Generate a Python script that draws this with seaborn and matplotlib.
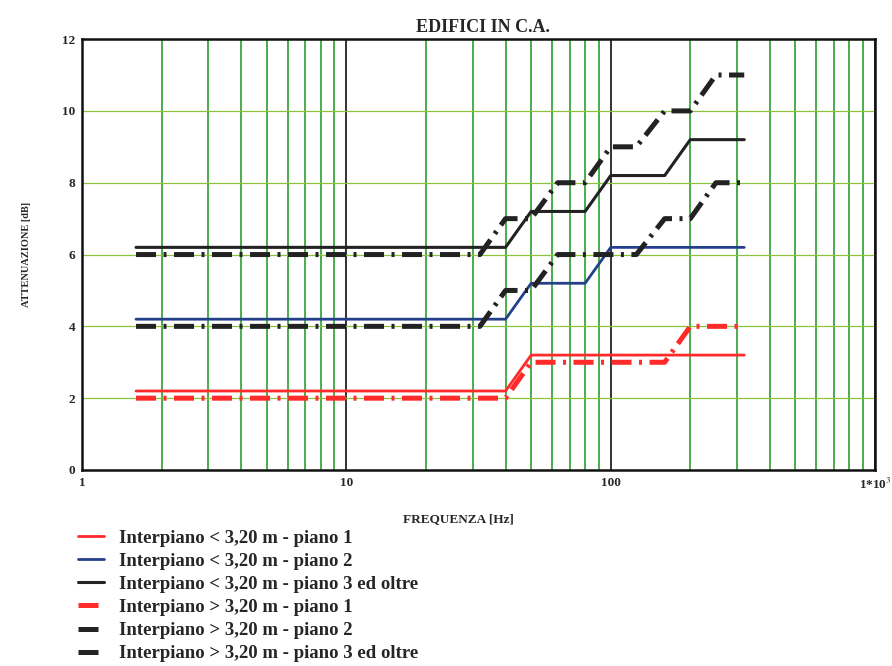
import matplotlib
matplotlib.use('Agg')
import matplotlib.pyplot as plt
import seaborn as sns
from matplotlib.ticker import LogLocator, FixedLocator, NullFormatter

# Data (frequency in Hz, attenuation in dB)
freq_lt_p1 = [1.6, 40, 50, 320]
att_lt_p1 = [2.2, 2.2, 3.2, 3.2]

freq_lt_p2 = [1.6, 40, 50, 80, 100, 320]
att_lt_p2 = [4.2, 4.2, 5.2, 5.2, 6.2, 6.2]

freq_lt_p3 = [1.6, 40, 50, 80, 100, 160, 200, 320]
att_lt_p3 = [6.2, 6.2, 7.2, 7.2, 8.2, 8.2, 9.2, 9.2]

freq_gt_p1 = [1.6, 40, 50, 160, 200, 320]
att_gt_p1 = [2.0, 2.0, 3.0, 3.0, 4.0, 4.0]

freq_gt_p2 = [1.6, 32, 40, 50, 63, 125, 160, 200, 250, 320]
att_gt_p2 = [4.0, 4.0, 5.0, 5.0, 6.0, 6.0, 7.0, 7.0, 8.0, 8.0]

freq_gt_p3 = [1.6, 32, 40, 50, 63, 80, 100, 125, 160, 200, 250, 320]
att_gt_p3 = [6.0, 6.0, 7.0, 7.0, 8.0, 8.0, 9.0, 9.0, 10.0, 10.0, 11.0, 11.0]

labels = [
    'Interpiano < 3,20 m - piano 1',
    'Interpiano < 3,20 m - piano 2',
    'Interpiano < 3,20 m - piano 3 ed oltre',
    'Interpiano > 3,20 m - piano 1',
    'Interpiano > 3,20 m - piano 2',
    'Interpiano > 3,20 m - piano 3 ed oltre',
]

sns.set_style('white')
plt.rcParams['font.family'] = ['Liberation Serif', 'DejaVu Serif']
plt.rcParams['mathtext.fontset'] = 'stix'

fig = plt.figure(figsize=(8.92, 6.66), dpi=100)
ax = fig.add_axes([0.092, 0.2943, 0.889, 0.647])

dashdot = (0, (4, 1.5, 0.6, 1.5))

series = [
    (freq_lt_p1, att_lt_p1, '#ff2a2a', '-', 2.0),
    (freq_lt_p2, att_lt_p2, '#24408a', '-', 2.0),
    (freq_lt_p3, att_lt_p3, '#222222', '-', 2.2),
    (freq_gt_p1, att_gt_p1, '#ff2a2a', dashdot, 3.6),
    (freq_gt_p2, att_gt_p2, '#222222', dashdot, 3.6),
    (freq_gt_p3, att_gt_p3, '#222222', dashdot, 3.6),
]

for (fx, ay, col, ls, lw), lab in zip(series, labels):
    sns.lineplot(x=fx, y=ay, ax=ax, color=col, linestyle=ls, linewidth=lw,
                 sort=False, estimator=None, label=lab, legend=False)

ax.set_xscale('log')
ax.set_xlim(1, 1000)
ax.set_ylim(0, 12)

ax.xaxis.set_major_locator(FixedLocator([1, 10, 100, 1000]))
ax.xaxis.set_minor_locator(LogLocator(base=10, subs=range(2, 10)))
ax.xaxis.set_minor_formatter(NullFormatter())
ax.set_xticks([1, 10, 100, 1000])
ax.set_xticklabels(['1', '10', '100', '1*10$^{3}$'])
ax.set_yticks([0, 2, 4, 6, 8, 10, 12])
ax.set_yticklabels(['0', '2', '4', '6', '8', '10', '12'])

ax.grid(which='minor', axis='x', color='#2aa02a', linewidth=1.2)
ax.grid(which='major', axis='x', color='#222222', linewidth=1.3)
ax.grid(which='major', axis='y', color='#8cc43c', linewidth=0.9)
ax.set_axisbelow(True)

ax.tick_params(axis='both', which='both', length=0, labelsize=9.5, pad=5)
for t in ax.get_xticklabels() + ax.get_yticklabels():
    t.set_fontweight('bold')

for s in ax.spines.values():
    s.set_color('#111111')
    s.set_linewidth(1.8)

ax.set_title('EDIFICI IN C.A.', fontsize=13, fontweight='bold', x=0.506, pad=5)
ax.set_xlabel('FREQUENZA [Hz]', fontsize=9.5, fontweight='bold')
ax.xaxis.set_label_coords(0.475, -0.1)
ax.set_ylabel('ATTENUAZIONE [dB]', fontsize=7.5, fontweight='bold')
ax.yaxis.set_label_coords(-0.065, 0.5)

handles, labs = ax.get_legend_handles_labels()
fig.legend(handles, labs, loc='upper left', bbox_to_anchor=(0.087, 0.205),
           frameon=False, handlelength=1.4, handletextpad=0.8, labelspacing=0.32,
           borderpad=0, borderaxespad=0,
           prop={'family': 'Liberation Serif', 'size': 13.5, 'weight': 'bold'})

fig.savefig('out.png', dpi=100)
